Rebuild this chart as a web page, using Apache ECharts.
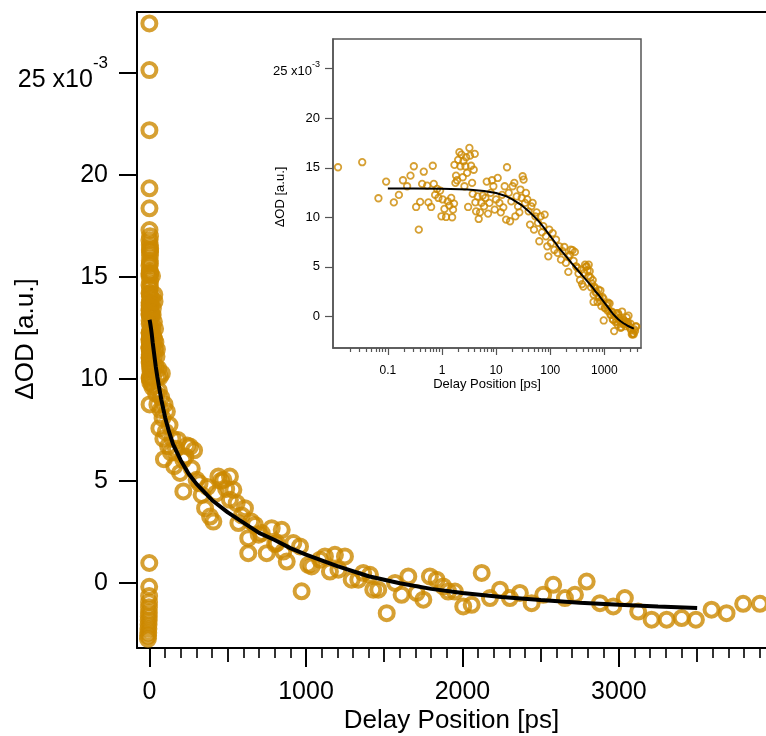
<!DOCTYPE html>
<html><head><meta charset="utf-8">
<script src="https://cdn.jsdelivr.net/npm/echarts@6/dist/echarts.min.js"></script>
<style>html,body{margin:0;padding:0;background:#fff}#c{width:766px;height:736px}</style>
</head><body><div id="c"></div>
<script>
// ---- measured data (delay in ps, ΔOD in units of 1e-3) ----
const delayPs = [
  -10,-9,-8,-7,-6,-5,-4.5,-4,-3.5,-3,-2.5,-2,-1.5,
  -1.0,-0.8,-0.6,-0.4,-0.3,-0.2,-0.1,
  0.012,0.0336,0.067,0.093,0.129,0.16,0.19,0.227,0.262,0.302,0.333,0.373,0.395,0.43,0.461,0.532,0.562,0.63,0.676,0.706,
  0.747,0.813,0.86,0.924,0.978,1.03,1.11,1.19,1.28,1.37,1.48,1.54,1.6,1.67,1.7,1.77,1.82,1.9,1.99,2.1,
  2.19,2.29,2.42,2.49,2.6,2.71,2.79,2.91,3.04,3.21,3.3,3.45,3.6,3.7,3.86,4.03,4.14,4.26,4.57,4.77,
  5.05,5.35,5.66,5.99,6.34,6.71,7.1,7.52,7.95,8.41,8.9,9.42,9.97,10.7,11.5,12.2,12.9,13.6,14.4,15.3,
  15.9,17.1,18.1,19.1,20.2,21.7,22.7,24,25.4,26.9,28.1,29.7,30.9,32.2,34.2,35.6,37.7,39.9,42.3,44.7,
  47.3,50.1,53,56.1,59.4,62.8,66.5,70.4,74.5,78.8,83.4,88.3,92.1,96.1,103,111,119,128,137,147,
  158,169,182,195,216,216,230,241,259,270,285,301,320,333,355,370,387,408,425,440,
  457,472,490,514,514,536,557,568,590,610,631,631,650,674,698,717,749,781,803,813,
  845,855,877,919,962,972,1015,1036,1090,1121,1153,1185,1207,1249,1292,1334,1366,1409,1430,1462,
  1516,1569,1611,1654,1707,1750,1792,1835,1877,1909,1952,2005,2059,2123,2176,2240,2303,2367,2442,2516,
  2580,2655,2719,2794,2879,2964,3038,3123,3209,3305,3401,3492,3592,3688,3794,3901
];
const deltaOD = [
  -2.75,-2.6,-2.45,-2.25,-2.05,-1.85,-1.65,-1.45,-1.2,-0.95,-0.65,-0.2,0.97,
  27.44,25.15,22.2,19.35,18.37,17.3,16.8,
  15.05,15.56,11.92,13.6,11.5,12.26,13.74,13.13,14.2,15.15,11.04,8.75,11.55,13.37,14.6,13.2,11.5,11.04,15.2,13.37,
  12.26,12.86,11.95,12.7,10.1,11.8,10.84,10.03,11.6,11.18,11.95,10.0,10.77,11.38,15.29,13.47,14.2,13.74,15.8,16.57,
  15.15,16.33,14.04,15.66,13.13,15.15,16.06,14.48,11.04,17.0,16.23,15.2,13.47,12.36,14.8,16.4,11.5,10.6,12.1,9.83,
  10.5,11.45,12.2,11.1,11.95,13.6,10.37,11.45,12.46,13.74,13.13,10.77,11.8,13.97,11.45,10.5,12.26,11.0,13.13,9.76,
  15.05,12.46,9.6,11.6,13.13,13.47,10.1,12.1,11.1,10.5,12.8,11.95,14.14,13.8,11.45,12.46,11.8,10.6,9.26,11.1,
  11.45,8.75,10.1,10.5,9.43,7.58,10.1,8.48,9.1,10.27,8.08,7.07,6.06,8.75,7.4,8.4,6.7,7.74,6.4,7.07,
  5.72,6.57,7.0,5.39,6.03,4.48,6.2,6.73,6.68,5.6,6.5,5.05,4.88,4.31,3.66,4.7,3.25,3.0,4.38,5.21,
  5.0,5.05,4.6,5.21,4.07,4.56,3.91,2.93,3.3,3.66,1.45,2.19,3.0,2.84,2.36,2.44,1.45,2.68,1.9,1.95,
  2.6,1.53,1.04,1.95,1.78,-0.42,0.88,0.8,1.13,1.29,0.55,1.37,0.64,1.29,0.15,0.15,0.48,0.39,-0.34,-0.34,
  -1.49,-0.01,-0.59,0.31,-0.5,-0.83,0.31,0.15,-0.18,-0.43,-0.43,-1.16,-1.08,0.48,-0.75,-0.34,-0.75,-0.5,-1.0,-0.59,
  -0.1,-0.75,-0.59,0.06,-1.0,-1.16,-0.75,-1.41,-1.81,-1.81,-1.73,-1.81,-1.32,-1.49,-1.03,-1.03
];
// fitted curve
const fitDelayPs = [0.1,0.3,1,3,6,10,15,20,30,40,50,60,75,100,125,150,200,250,300,400,500,600,700,800,900,1000,1200,1400,1600,1800,2000,2250,2500,2750,3000,3250,3500];
const fitDeltaOD = [12.9,12.9,12.88,12.8,12.65,12.45,12.15,11.8,11.2,10.6,10.1,9.65,9.0,8.1,7.4,6.8,6.0,5.35,4.85,4.05,3.45,2.95,2.45,2.1,1.7,1.38,0.82,0.32,-0.02,-0.3,-0.5,-0.7,-0.85,-0.98,-1.08,-1.17,-1.24];

// tick labels
const mainXLabels = [0,1000,2000,3000];
const mainXMid = [500,1500,2500,3500];
const mainYLabels = [0,5,10,15,20,25];
const insetXLabels = [0.1,1,10,100,1000];
const insetYLabels = [0,5,10,15,20,25];

// ---- axis helpers ----
const mainXMinor = [];
for (let v = 100; v < 3940; v += 100) { if (v % 500 !== 0) mainXMinor.push(v); }
const insetXMinor = [];
for (let d = -2; d <= 3; d++) {
  for (let k = 2; k <= 9; k++) {
    const v = Number((k * Math.pow(10, d)).toPrecision(3));
    if (v > 0.0097 && v < 4750) insetXMinor.push(v);
  }
}
const points = delayPs.map((t, i) => [t, deltaOD[i]]);
const insetPoints = points.filter(p => p[0] > 0);
const fitPoints = fitDelayPs.map((t, i) => [t, fitDeltaOD[i]]);

const FONT = 'Liberation Sans, Arial, Helvetica, sans-serif';
const ORANGE = '#CC8800';
const INK = '#000';
const GREY = '#555';

function yFmt(v) { return v === 25 ? '{a|25 x10}{s|-3}' : String(v); }

const chart = echarts.init(document.getElementById('c'), null, {renderer: 'canvas'});
chart.setOption({
  animation: false,
  backgroundColor: '#fff',
  grid: [
    {left: 137, top: 12, right: 0, bottom: 88, containLabel: false, outerBoundsMode: 'none'},
    {left: 333, top: 39, width: 308, height: 309, containLabel: false, outerBoundsMode: 'none',
     show: true, borderColor: GREY, borderWidth: 1.5, backgroundColor: 'transparent'}
  ],
  xAxis: [
    {type: 'value', gridIndex: 0, position: 'bottom', min: -80, max: 3940,
     axisLine: {show: true, onZero: false, lineStyle: {color: INK, width: 2}},
     axisTick: {show: true, customValues: mainXLabels, length: 19, lineStyle: {color: INK, width: 2}},
     axisLabel: {show: true, customValues: mainXLabels, fontSize: 25, fontFamily: FONT, color: INK, margin: 32,
                 formatter: v => String(v)},
     splitLine: {show: false},
     name: 'Delay Position [ps]', nameLocation: 'middle', nameGap: 60, nameMoveOverlap: false,
     nameTextStyle: {fontSize: 26, fontFamily: FONT, color: INK}},
    {type: 'value', gridIndex: 0, position: 'bottom', min: -80, max: 3940,
     axisLine: {show: false, onZero: false},
     axisTick: {show: true, customValues: mainXMid, length: 14, lineStyle: {color: INK, width: 1.8}},
     axisLabel: {show: false}, splitLine: {show: false}},
    {type: 'value', gridIndex: 0, position: 'bottom', min: -80, max: 3940,
     axisLine: {show: false, onZero: false},
     axisTick: {show: true, customValues: mainXMinor, length: 10, lineStyle: {color: INK, width: 1.6}},
     axisLabel: {show: false}, splitLine: {show: false}},
    {type: 'value', gridIndex: 0, position: 'top', min: -80, max: 3940,
     axisLine: {show: true, onZero: false, lineStyle: {color: INK, width: 2}},
     axisTick: {show: false}, axisLabel: {show: false}, splitLine: {show: false}},
    {type: 'log', gridIndex: 1, position: 'bottom', min: 0.0097, max: 4750, logBase: 10,
     axisLine: {show: true, onZero: false, lineStyle: {color: GREY, width: 1.5}},
     axisTick: {show: true, customValues: insetXLabels, length: 7, lineStyle: {color: GREY, width: 1.2}},
     axisLabel: {show: true, customValues: insetXLabels, fontSize: 12, fontFamily: FONT, color: INK, margin: 17,
                 formatter: v => String(v)},
     splitLine: {show: false},
     name: 'Delay Position [ps]', nameLocation: 'middle', nameGap: 30, nameMoveOverlap: false,
     nameTextStyle: {fontSize: 13, fontFamily: FONT, color: INK}},
    {type: 'log', gridIndex: 1, position: 'bottom', min: 0.0097, max: 4750, logBase: 10,
     axisLine: {show: false, onZero: false},
     axisTick: {show: true, customValues: insetXMinor, length: 4, lineStyle: {color: GREY, width: 1.2}},
     axisLabel: {show: false}, splitLine: {show: false}}
  ],
  yAxis: [
    {type: 'value', gridIndex: 0, position: 'left', min: -3.2, max: 28,
     axisLine: {show: true, onZero: false, lineStyle: {color: INK, width: 2}},
     axisTick: {show: true, customValues: mainYLabels, length: 18, lineStyle: {color: INK, width: 2}},
     axisLabel: {show: true, customValues: mainYLabels, fontSize: 25, fontFamily: FONT, color: INK, margin: 29,
                 formatter: yFmt,
                 rich: {a: {fontSize: 25, fontFamily: FONT, color: INK, padding: [14, 0, 0, 0]},
                        s: {fontSize: 17, fontFamily: FONT, color: INK, padding: [0, 0, 20, 0]}}},
     splitLine: {show: false},
     name: 'ΔOD [a.u.]', nameLocation: 'middle', nameGap: 98, nameRotate: 90, nameMoveOverlap: false,
     nameTextStyle: {fontSize: 26, fontFamily: FONT, color: INK, padding: [0, 18, 0, 0]}},
    {type: 'value', gridIndex: 1, position: 'left', min: -3.2, max: 28,
     axisLine: {show: true, onZero: false, lineStyle: {color: GREY, width: 1.5}},
     axisTick: {show: true, customValues: insetYLabels, length: 8, lineStyle: {color: GREY, width: 1.2}},
     axisLabel: {show: true, customValues: insetYLabels, fontSize: 13, fontFamily: FONT, color: INK, margin: 13,
                 formatter: yFmt,
                 rich: {a: {fontSize: 13, fontFamily: FONT, color: INK, padding: [5, 0, 0, 0]},
                        s: {fontSize: 9, fontFamily: FONT, color: INK, padding: [0, 0, 8, 0]}}},
     splitLine: {show: false},
     name: 'ΔOD [a.u.]', nameLocation: 'middle', nameGap: 46, nameRotate: 90, nameMoveOverlap: false,
     nameTextStyle: {fontSize: 13, fontFamily: FONT, color: INK, padding: [0, 7, 0, 0]}}
  ],
  series: [
    {type: 'scatter', xAxisIndex: 0, yAxisIndex: 0, data: points, symbol: 'circle', symbolSize: 14,
     itemStyle: {color: 'rgba(0,0,0,0)', borderColor: ORANGE, borderWidth: 4}, z: 2},
    {type: 'line', xAxisIndex: 0, yAxisIndex: 0, data: fitPoints, showSymbol: false, smooth: false,
     lineStyle: {color: INK, width: 4}, z: 3},
    {type: 'scatter', xAxisIndex: 4, yAxisIndex: 1, data: insetPoints, symbol: 'circle', symbolSize: 6.5,
     itemStyle: {color: 'rgba(0,0,0,0)', borderColor: ORANGE, borderWidth: 1.8}, z: 2},
    {type: 'line', xAxisIndex: 4, yAxisIndex: 1, data: fitPoints, showSymbol: false, smooth: false,
     lineStyle: {color: INK, width: 2}, z: 3}
  ]
});
</script></body></html>
